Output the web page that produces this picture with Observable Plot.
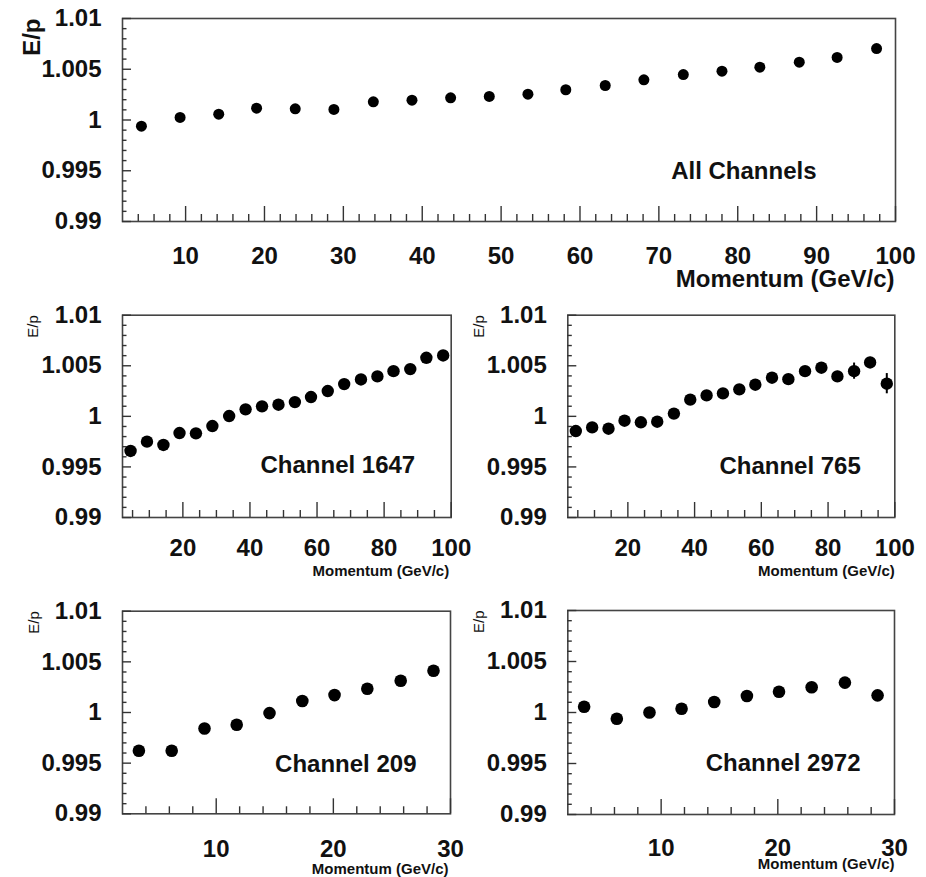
<!DOCTYPE html>
<html>
<head>
<meta charset="utf-8">
<script src="https://cdn.jsdelivr.net/npm/d3@7"></script>
<script src="https://cdn.jsdelivr.net/npm/@observablehq/plot@0.6"></script>
<style>
  html, body { margin: 0; padding: 0; background: #fff; }
  #chart { position: relative; width: 926px; height: 877px; background: #fff; overflow: hidden; }
  #chart > div, #chart > svg { position: absolute; }
</style>
</head>
<body>
<div id="chart"></div>
<script>
// ---------- data ----------
const momentum20 = [4.4, 9.3, 14.2, 19.0, 23.9, 28.8, 33.8, 38.7, 43.6, 48.5, 53.4, 58.2, 63.2, 68.1, 73.1, 78.0, 82.8, 87.8, 92.6, 97.6];
const momentum10 = [3.4, 6.2, 9.0, 11.75, 14.55, 17.35, 20.1, 22.9, 25.75, 28.55];

const allChannels = [0.99939, 1.00025, 1.00057, 1.00116, 1.0011, 1.00104, 1.00179, 1.00195, 1.00219, 1.00232, 1.00254, 1.00298, 1.0034, 1.00396, 1.00448, 1.00481, 1.0052, 1.0057, 1.00616, 1.00704];
const ch1647 = [0.99658, 0.9975, 0.99717, 0.99835, 0.99832, 0.99904, 1.00003, 1.00069, 1.00099, 1.00115, 1.00141, 1.00191, 1.0025, 1.00319, 1.00365, 1.00395, 1.00447, 1.00467, 1.00579, 1.00602];
const ch765 = [0.99855, 0.99891, 0.99878, 0.99957, 0.99941, 0.99947, 1.00027, 1.00165, 1.00207, 1.00227, 1.00267, 1.00313, 1.00382, 1.00368, 1.00447, 1.00481, 1.00395, 1.00447, 1.00533, 1.00323];
const ch765Err = [0.0003, 0.0003, 0.0003, 0.0003, 0.0003, 0.0003, 0.0003, 0.0003, 0.0003, 0.0003, 0.0003, 0.0003, 0.0003, 0.0003, 0.0003, 0.0003, 0.0005, 0.0008, 0.0005, 0.001];
const ch209 = [0.99622, 0.99622, 0.99842, 0.99879, 0.99994, 1.00113, 1.00172, 1.00234, 1.00313, 1.00412];
const ch2972 = [1.00056, 0.99938, 1.0, 1.00037, 1.00103, 1.00162, 1.00204, 1.00247, 1.00293, 1.00168];

const yTicks = [0.99, 0.995, 1, 1.005, 1.01];
const yTickLabels = ["0.99", "0.995", "1", "1.005", "1.01"];
const yMinorTicks = [0.991, 0.992, 0.993, 0.994, 0.996, 0.997, 0.998, 0.999, 1.001, 1.002, 1.003, 1.004, 1.006, 1.007, 1.008, 1.009];

const xTicksTop = [10, 20, 30, 40, 50, 60, 70, 80, 90, 100];
const xMinorTop = [4, 6, 8, 12, 14, 16, 18, 22, 24, 26, 28, 32, 34, 36, 38, 42, 44, 46, 48, 52, 54, 56, 58, 62, 64, 66, 68, 72, 74, 76, 78, 82, 84, 86, 88, 92, 94, 96, 98];
const xTicksMid = [20, 40, 60, 80, 100];
const xMinorMid = [5, 10, 15, 25, 30, 35, 45, 50, 55, 65, 70, 75, 85, 90, 95];
const xTicksBot = [10, 20, 30];
const xMinorBot = [4, 6, 8, 12, 14, 16, 18, 22, 24, 26, 28];

const yLabel = "E/p";
const xLabel = "Momentum (GeV/c)";
const panelTitles = ["All Channels", "Channel 1647", "Channel 765", "Channel 209", "Channel 2972"];

// ---------- drawing ----------
const FONT = "'Liberation Sans', Arial, Helvetica, sans-serif";
const fmtY = d => yTickLabels[yTicks.indexOf(d)];

function panel(p) {
  const data = p.xs.map((x, i) => ({x, y: p.ys[i], e: p.err ? p.err[i] : 0}));
  const marks = [
    Plot.frame({stroke: "#444", strokeWidth: 1.6}),
    // inward ticks
    Plot.axisX({ticks: p.xMajor, tickSize: -p.xMajorLen, fill: "none", label: null, stroke: "#333", strokeWidth: 1.4}),
    Plot.axisX({ticks: p.xMinor, tickSize: -p.xMinorLen, fill: "none", label: null, stroke: "#333", strokeWidth: 1.4}),
    Plot.axisY({ticks: yTicks, tickSize: -p.yMajorLen, fill: "none", label: null, stroke: "#333", strokeWidth: 1.4}),
    Plot.axisY({ticks: yMinorTicks, tickSize: -p.yMinorLen, fill: "none", label: null, stroke: "#333", strokeWidth: 1.4}),
    // tick labels
    Plot.axisX({ticks: p.xMajor, tickSize: 0, tickPadding: p.xPad, label: null, fontSize: 24, fontWeight: "bold", fill: "#111"}),
    Plot.axisY({ticks: yTicks, tickSize: 0, tickPadding: 21, tickFormat: fmtY, label: null, fontSize: 24, fontWeight: "bold", fill: "#111"}),
    // axis titles
    Plot.text([xLabel], {frameAnchor: "bottom-right", textAnchor: "end", lineAnchor: "top", dx: p.xlDx, dy: p.xlDy,
      fontSize: p.xlSize, fontWeight: "bold", fill: "#111"}),
    Plot.text([yLabel], {frameAnchor: "top-left", rotate: -90, textAnchor: "end", lineAnchor: "middle", dx: p.ylDx, dy: 0,
      fontSize: p.ylSize, fontWeight: p.ylWeight, fill: "#111"}),
    // panel title
    Plot.text([p.title], {frameAnchor: "right", textAnchor: "end", lineAnchor: "middle", dx: p.tDx, dy: p.tDy,
      fontSize: 24, fontWeight: "bold", fill: "#111"}),
    // data
    Plot.ruleX(data, {x: "x", y1: d => d.y - d.e, y2: d => d.y + d.e, stroke: "black", strokeWidth: 2}),
    Plot.dot(data, {x: "x", y: "y", r: p.r, fill: "black", stroke: "none"})
  ];
  const svg = Plot.plot({
    width: p.w, height: p.h,
    marginLeft: p.ml, marginRight: p.mr, marginTop: p.mt, marginBottom: p.mb,
    x: {domain: p.xDomain},
    y: {domain: [0.99, 1.01]},
    style: {fontFamily: FONT, background: "transparent", overflow: "visible", color: "#111"},
    marks
  });
  svg.style.position = "absolute";
  svg.style.left = p.left + "px";
  svg.style.top = p.top + "px";
  svg.style.overflow = "visible";
  document.getElementById("chart").appendChild(svg);
}

// All channels (top)
panel({left: 0, top: 0, w: 926, h: 300, ml: 122, mr: 31, mt: 18, mb: 79,
  xs: momentum20, ys: allChannels, xDomain: [2, 100], xMajor: xTicksTop, xMinor: xMinorTop,
  xMajorLen: 15, xMinorLen: 7, yMajorLen: 9, yMinorLen: 4.5, xPad: 25, r: 5.5,
  xlDx: -1, xlDy: 48, xlSize: 24, ylDx: -90, ylSize: 24, ylWeight: "bold",
  title: panelTitles[0], tDx: -79, tDy: 51});

// Channel 1647 (middle left)
panel({left: 0, top: 290, w: 463, h: 300, ml: 122, mr: 12.3, mt: 24.7, mb: 73,
  xs: momentum20, ys: ch1647, xDomain: [2, 100], xMajor: xTicksMid, xMinor: xMinorMid,
  xMajorLen: 15, xMinorLen: 7, yMajorLen: 9, yMinorLen: 4.5, xPad: 21, r: 6.2,
  xlDx: -2, xlDy: 48, xlSize: 15, ylDx: -89, ylSize: 15, ylWeight: "normal",
  title: panelTitles[1], tDx: -36, tDy: 49});

// Channel 765 (middle right)
panel({left: 463, top: 290, w: 463, h: 300, ml: 104.3, mr: 31.7, mt: 24.7, mb: 73,
  xs: momentum20, ys: ch765, err: ch765Err, xDomain: [2, 100], xMajor: xTicksMid, xMinor: xMinorMid,
  xMajorLen: 15, xMinorLen: 7, yMajorLen: 9, yMinorLen: 4.5, xPad: 21, r: 6.2,
  xlDx: 0, xlDy: 48, xlSize: 15, ylDx: -89, ylSize: 15, ylWeight: "normal",
  title: panelTitles[2], tDx: -34, tDy: 49.5});

// Channel 209 (bottom left)
panel({left: 0, top: 590, w: 463, h: 287, ml: 122, mr: 13, mt: 20.7, mb: 63.7,
  xs: momentum10, ys: ch209, xDomain: [2, 30], xMajor: xTicksBot, xMinor: xMinorBot,
  xMajorLen: 15, xMinorLen: 7, yMajorLen: 9, yMinorLen: 4.5, xPad: 26, r: 6.3,
  xlDx: -2, xlDy: 50, xlSize: 15, ylDx: -88, ylSize: 15, ylWeight: "normal",
  title: panelTitles[3], tDx: -34, tDy: 51.7});

// Channel 2972 (bottom right)
panel({left: 463, top: 590, w: 463, h: 287, ml: 104.3, mr: 32, mt: 20, mb: 63,
  xs: momentum10, ys: ch2972, xDomain: [2, 30], xMajor: xTicksBot, xMinor: xMinorBot,
  xMajorLen: 15, xMinorLen: 7, yMajorLen: 9, yMinorLen: 4.5, xPad: 24, r: 6.3,
  xlDx: 0, xlDy: 44, xlSize: 15, ylDx: -89, ylSize: 15, ylWeight: "normal",
  title: panelTitles[4], tDx: -34, tDy: 51});
</script>
</body>
</html>
